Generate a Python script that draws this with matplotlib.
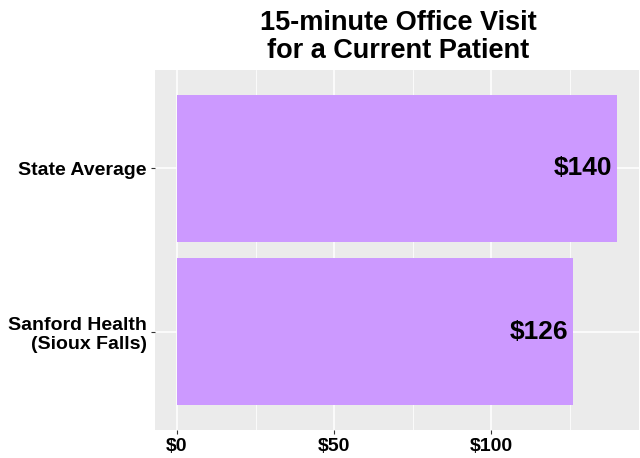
import matplotlib as mpl
import matplotlib.pyplot as plt
from matplotlib.ticker import MultipleLocator, FuncFormatter

mpl.rcParams['font.family'] = ['Liberation Sans', 'DejaVu Sans']
mpl.rcParams['font.weight'] = 'bold'

categories = ['Sanford Health\n(Sioux Falls)', 'State Average']
values = [126, 140]
value_labels = ['$126', '$140']
title = '15-minute Office Visit\nfor a Current Patient'

fig = plt.figure(figsize=(6.4, 4.58), dpi=100)
ax = fig.add_axes([155 / 640, 1 - 430 / 458, (639 - 155) / 640, (430 - 70) / 458])
ax.set_facecolor('#EBEBEB')

pos = list(range(len(categories)))
ax.barh(pos, values, height=0.9, color='#CC99FF', zorder=3)
for p, v, lab in zip(pos, values, value_labels):
    ax.text(v - 1.5, p, lab, ha='right', va='center', fontsize=19,
            fontweight='bold', color='black', zorder=4)

ax.set_xlim(-7, 147)
ax.set_ylim(-0.6, len(categories) - 0.4)
ax.xaxis.set_major_locator(MultipleLocator(50))
ax.xaxis.set_minor_locator(MultipleLocator(25))
ax.xaxis.set_major_formatter(FuncFormatter(lambda x, _: f'${x:.0f}'))
ax.set_yticks(pos)
ax.set_yticklabels(categories, ha='right', linespacing=1.15)

ax.grid(which='major', color='white', linewidth=1.1, zorder=0)
ax.grid(which='minor', axis='x', color='white', linewidth=0.55, zorder=0)
ax.set_axisbelow(True)
for s in ax.spines.values():
    s.set_visible(False)
ax.tick_params(which='major', length=3, width=0.8, color='#333333',
               labelsize=14, labelcolor='black', pad=3)
ax.tick_params(which='minor', length=0)
for t in ax.get_xticklabels() + ax.get_yticklabels():
    t.set_fontweight('bold')

fig.text(398 / 640, 1 - 37 / 458, title, ha='center', va='center',
         fontsize=19.5, fontweight='bold', linespacing=1.05)

fig.savefig('out.png', dpi=100)
